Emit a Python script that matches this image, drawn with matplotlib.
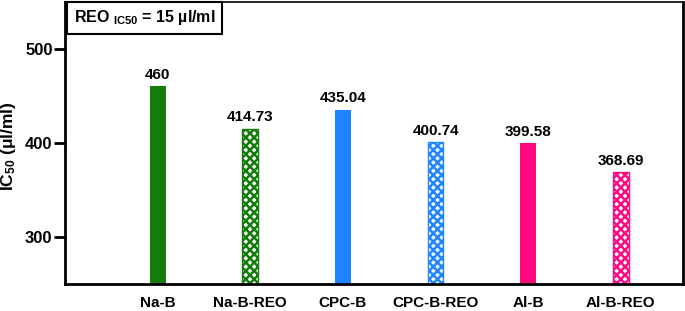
import matplotlib
matplotlib.use('Agg')
import matplotlib.pyplot as plt

categories = ["Na-B", "Na-B-REO", "CPC-B", "CPC-B-REO", "Al-B", "Al-B-REO"]
values = [460, 414.73, 435.04, 400.74, 399.58, 368.69]
labels = ["460", "414.73", "435.04", "400.74", "399.58", "368.69"]
colors = ["#147B0C", "#147B0C", "#1E84FF", "#1E84FF", "#FF0A80", "#FF0A80"]
hatched = [False, True, False, True, False, True]
yticks = [300, 400, 500]

plt.rcParams['font.family'] = ['Liberation Sans', 'DejaVu Sans']
plt.rcParams['font.weight'] = 'bold'
plt.rcParams['mathtext.fontset'] = 'custom'
plt.rcParams['mathtext.rm'] = 'Liberation Sans:bold'
plt.rcParams['mathtext.it'] = 'Liberation Sans:bold'
plt.rcParams['mathtext.bf'] = 'Liberation Sans:bold'
plt.rcParams['hatch.linewidth'] = 1.8

fig = plt.figure(figsize=(6.85, 3.11), dpi=100)
ax = fig.add_axes([0.095, 0.087, 0.902, 0.907])

x = list(range(len(categories)))
w = 0.17
for i in x:
    if hatched[i]:
        ax.bar(i, values[i] - 250, w, bottom=250, facecolor='white', edgecolor=colors[i],
               hatch='xxxx', linewidth=1)
    else:
        ax.bar(i, values[i] - 250, w, bottom=250, color=colors[i], linewidth=0)
    ax.text(i, values[i] + 5, labels[i], ha='center', va='bottom', fontsize=11, fontweight='bold')

ax.set_xlim(-1.0, 5.67)
ax.set_ylim(250, 550)
ax.set_yticks(yticks)
ax.set_xticks(x)
ax.set_xticklabels(categories, fontsize=11, fontweight='bold')
ax.tick_params(axis='x', length=0, pad=9)
ax.tick_params(axis='y', length=8, width=2, labelsize=12, pad=1)
for s in ['left', 'bottom', 'right']:
    ax.spines[s].set_linewidth(2)
ax.spines['top'].set_linewidth(1.2)

ax.set_ylabel(r'IC$_{50}$ ($\mathregular{\mu}$l/ml)', fontsize=12.5, fontweight='bold')
ax.yaxis.set_label_coords(-0.076, 0.49)

ax.text(0.014, 0.943, r'REO $_{IC50}$ = 15 µl/ml', transform=ax.transAxes, ha='left', va='center',
        fontsize=11.5, fontweight='bold',
        bbox=dict(boxstyle='square,pad=0.4', facecolor='white', edgecolor='black', linewidth=1.5))

plt.savefig('out.png', dpi=100)
